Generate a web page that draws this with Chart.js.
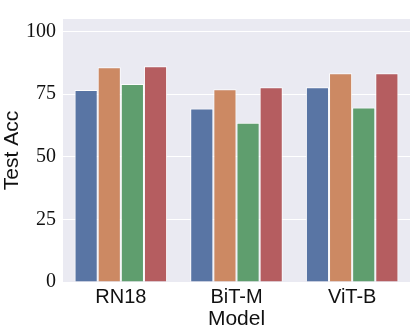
<!DOCTYPE html>
<html>
<head>
<meta charset="utf-8">
<script src="https://cdn.jsdelivr.net/npm/chart.js@4.4.0/dist/chart.umd.min.js"></script>
<style>
  html, body { margin: 0; padding: 0; background: #fff; }
  canvas { display: block; }
</style>
</head>
<body>
<canvas id="chart" width="415" height="332"></canvas>
<script>
// Data
const models = ['RN18', 'BiT-M', 'ViT-B'];
const seriesA = [76.7, 69.3, 77.8];
const seriesB = [85.7, 77.0, 83.3];
const seriesC = [79.0, 63.6, 69.7];
const seriesD = [86.1, 77.8, 83.3];
const yTicks = [0, 25, 50, 75, 100];

// seaborn "deep" palette, desaturated like barplot does
const colors = ['#5975a4', '#cc8963', '#5f9e6e', '#b55d60'];

// Grey plot background like seaborn darkgrid
const plotBackground = {
    id: 'plotBackground',
    beforeDraw(chart) {
        const { ctx, chartArea } = chart;
        ctx.save();
        ctx.fillStyle = '#eaeaf2';
        ctx.fillRect(chartArea.left, chartArea.top, chartArea.right - chartArea.left, chartArea.bottom - chartArea.top);
        ctx.restore();
    }
};

const datasets = [seriesA, seriesB, seriesC, seriesD].map((values, i) => ({
    data: values,
    backgroundColor: colors[i],
    borderColor: 'rgba(255,255,255,0.85)',
    borderWidth: 1,
    categoryPercentage: 0.8,
    barPercentage: 1.0
}));

new Chart(document.getElementById('chart'), {
    type: 'bar',
    data: { labels: models, datasets: datasets },
    options: {
        responsive: false,
        animation: false,
        devicePixelRatio: 1,
        layout: { padding: { top: 17, right: 5, left: 0, bottom: 0 } },
        plugins: {
            legend: { display: false },
            tooltip: { enabled: false }
        },
        scales: {
            x: {
                grid: { display: false, drawTicks: false },
                border: { display: false },
                ticks: {
                    color: '#111',
                    padding: 3,
                    font: { family: '"Liberation Sans", Arial, sans-serif', size: 20 }
                },
                title: {
                    display: true,
                    text: 'Model',
                    color: '#111',
                    padding: { top: -4, bottom: 0 },
                    font: { family: '"Liberation Sans", Arial, sans-serif', size: 21 }
                },
                afterFit(axis) { axis.height = 50; }
            },
            y: {
                min: 0,
                max: 105,
                grid: { color: '#ffffff', lineWidth: 1, drawTicks: false },
                border: { display: false },
                afterBuildTicks(axis) { axis.ticks = yTicks.map(v => ({ value: v })); },
                ticks: {
                    color: '#111',
                    padding: 7,
                    font: { family: '"Liberation Serif", "Times New Roman", serif', size: 20 }
                },
                title: {
                    display: true,
                    text: 'Test Acc',
                    color: '#111',
                    padding: { top: 0, bottom: 0 },
                    font: { family: '"Liberation Sans", Arial, sans-serif', size: 21 }
                },
                afterFit(axis) { axis.width = 63; }
            }
        }
    },
    plugins: [plotBackground]
});
</script>
</body>
</html>
